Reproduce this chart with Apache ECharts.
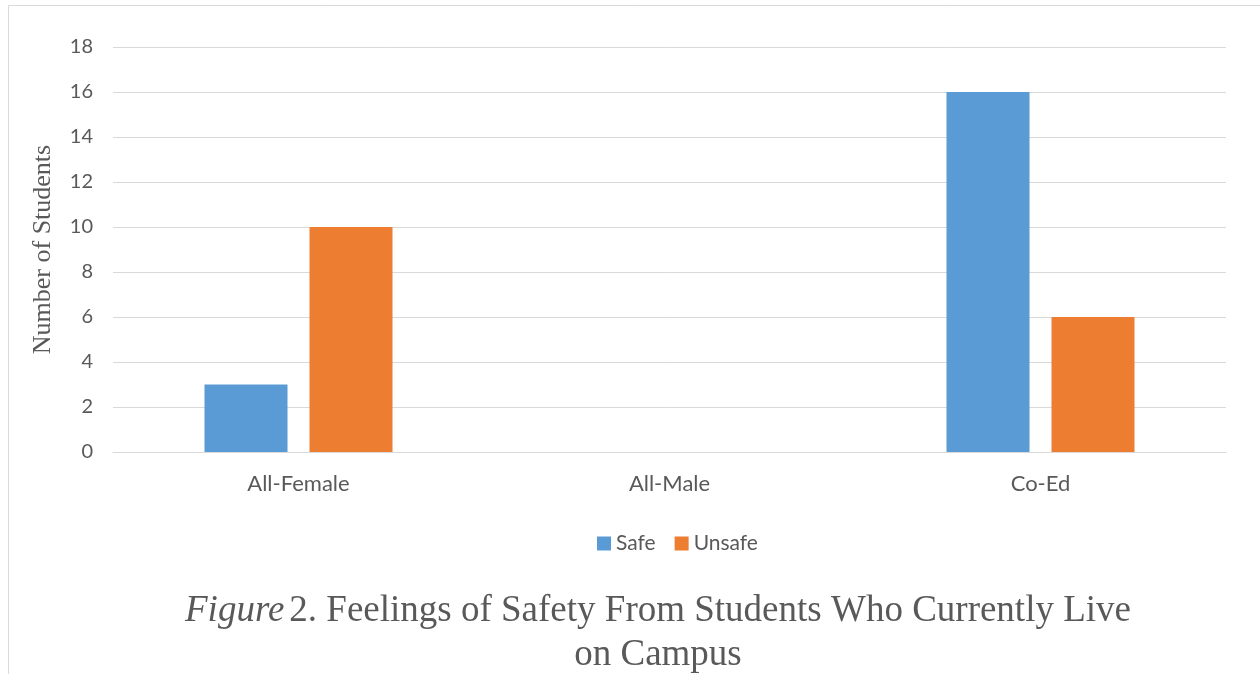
<!DOCTYPE html>
<html>
<head>
<meta charset="utf-8">
<script src="https://cdn.jsdelivr.net/npm/echarts@6/dist/echarts.min.js"></script>
<style>html,body{margin:0;padding:0;background:#fff}#c{width:1260px;height:674px}</style>
</head>
<body>
<div id="c"></div>
<script>
var categories = ['All-Female', 'All-Male', 'Co-Ed'];
var safeValues = [3, null, 16];
var unsafeValues = [10, null, 6];
var seriesNames = ['Safe', 'Unsafe'];
var yMin = 0, yMax = 18, yStep = 2;

var chart = echarts.init(document.getElementById('c'), null, {renderer: 'canvas'});
var tickFont = 'Lato, "Open Sans", sans-serif';
chart.setOption({
  backgroundColor: '#ffffff',
  animation: false,
  graphic: [{
    type: 'rect',
    shape: {x: 8.5, y: 5.5, width: 1300, height: 700},
    style: {fill: 'none', stroke: '#d9d9d9', lineWidth: 1},
    silent: true, z: -1
  }],
  title: {
    left: 653,
    top: 584,
    textAlign: 'center',
    text: '{i|Figure} {n|2. Feelings of Safety From Students Who Currently Live}\n{n|on Campus}',
    textStyle: {
      fontWeight: 'normal',
      lineHeight: 44,
      rich: {
        i: {fontFamily: '"Liberation Serif", serif', fontStyle: 'italic', fontWeight: 'normal', fontSize: 37, color: '#595959', lineHeight: 44},
        n: {fontFamily: '"Liberation Serif", serif', fontWeight: 'normal', fontSize: 37, color: '#595959', lineHeight: 44}
      }
    }
  },
  legend: {
    data: seriesNames,
    top: 528,
    left: 592,
    itemWidth: 14,
    itemHeight: 14,
    itemGap: 19,
    icon: 'rect',
    textStyle: {fontFamily: tickFont, fontSize: 21, color: '#595959'}
  },
  grid: {left: 113, right: 34, top: 47, bottom: 222, containLabel: false},
  xAxis: {
    type: 'category',
    data: categories,
    axisLine: {show: true, lineStyle: {color: '#d9d9d9', width: 1}},
    axisTick: {show: false},
    axisLabel: {fontFamily: tickFont, fontSize: 22, color: '#595959', margin: 21}
  },
  yAxis: {
    type: 'value',
    min: yMin, max: yMax, interval: yStep,
    name: 'Number of Students',
    nameLocation: 'middle',
    nameGap: 57,
    nameTextStyle: {fontFamily: '"Liberation Serif", serif', fontSize: 26, color: '#595959'},
    axisLine: {show: false},
    axisTick: {show: false},
    splitLine: {lineStyle: {color: '#d9d9d9', width: 1}},
    axisLabel: {fontFamily: tickFont, fontSize: 20, color: '#595959', margin: 20}
  },
  series: [
    {name: seriesNames[0], type: 'bar', data: safeValues, barWidth: 83, barGap: '26.5%', itemStyle: {color: '#5B9BD5'}},
    {name: seriesNames[1], type: 'bar', data: unsafeValues, barWidth: 83, barGap: '26.5%', itemStyle: {color: '#ED7D31'}}
  ]
});
</script>
</body>
</html>
